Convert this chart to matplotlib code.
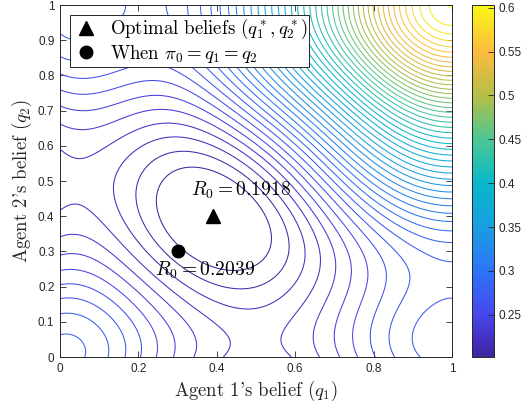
import numpy as np
import matplotlib
matplotlib.use("Agg")
import matplotlib.pyplot as plt
from matplotlib.colors import LinearSegmentedColormap, Normalize
from matplotlib.cm import ScalarMappable

# values of R0 at (q1, q2) points
read_q1 = [0.395, 0.30, 0.31, 0.47, 0.243, 0.33, 0.28, 0.50, 0.17, 0.257, 0.52, 0.10,
           0.236, 0.535, 0.155, 0.57, 0.085, 0.60, 0.055, 0.70, 0.80, 0.90, 0.948, 1.0,
           0, 0, 0, 0, 0, 0, 0, 0, 0, 0, 0, 0, 0, 0, 0, 0, 0, 0,
           1, 1, 1, 1, 1, 1, 1, 1, 1, 1, 1, 1, 1,
           0.61, 0.697, 0.742, 0.781, 0.819, 0.86,
           1, 0.93, 0.96, 0.95, 1, 0.03, 0.06]
read_q2 = [0.395, 0.30, 0.31, 0.47, 0.43, 0.53, 0.28, 0.50, 0.47, 0.257, 0.52, 0.48,
           0.236, 0.535, 0.155, 0.57, 0.085, 0.60, 0.055, 0.70, 0.80, 0.90, 0.948, 1.0,
           0, 0.08, 0.13, 0.17, 0.21, 0.25, 0.30, 0.35, 0.43, 0.51, 0.59, 0.67, 0.72, 0.77,
           0.81, 0.857, 0.90, 1.0,
           0.145, 0.21, 0.27, 0.324, 0.364, 0.389, 0.409, 0.43, 0.51, 0.6, 0.7, 0.8, 0.934,
           0.22, 0.22, 0.22, 0.22, 0.22, 0.22,
           0, 0.09, 0.04, 0, 0.06, 0.03, 0]
read_r0 = [0.1918, 0.2039, 0.2001, 0.2001, 0.2001, 0.2001, 0.2085, 0.2085, 0.2085, 0.2168, 0.2168, 0.2168,
           0.2251, 0.2251, 0.2501, 0.2501, 0.2751, 0.2751, 0.2835, 0.365, 0.452, 0.54, 0.5918, 0.605,
           0.285, 0.2835, 0.2751, 0.2668, 0.2585, 0.2501, 0.2418, 0.2335, 0.2251, 0.2212, 0.2251, 0.2335,
           0.2418, 0.2501, 0.2585, 0.2668, 0.2751, 0.281,
           0.2751, 0.272, 0.2751, 0.2835, 0.2918, 0.3001, 0.3085, 0.3168, 0.3501, 0.40, 0.454, 0.513, 0.5918,
           0.2251, 0.2335, 0.2418, 0.2501, 0.2585, 0.2668,
           0.281, 0.2751, 0.279, 0.2785, 0.2795, 0.2845, 0.2842]

opt_q = [0.39, 0.40]
opt_r0 = 0.1918
prior_q = [0.30, 0.30]
prior_r0 = 0.2039

n_levels = 50
r0_low, r0_high = 0.1918, 0.6
cbar_lim = [0.202, 0.603]
cbar_ticks = [0.25, 0.3, 0.35, 0.4, 0.45, 0.5, 0.55, 0.6]
cbar_labels = ["0.25", "0.3", "0.35", "0.4", "0.45", "0.5", "0.55", "0.6"]
x_ticks = [0, 0.2, 0.4, 0.6, 0.8, 1]
x_labels = ["0", "0.2", "0.4", "0.6", "0.8", "1"]
y_ticks = [0, 0.1, 0.2, 0.3, 0.4, 0.5, 0.6, 0.7, 0.8, 0.9, 1]
y_labels = ["0", "0.1", "0.2", "0.3", "0.4", "0.5", "0.6", "0.7", "0.8", "0.9", "1"]

# parula-like colormap
parula = LinearSegmentedColormap.from_list("parula", [
    (0.00, (0.24, 0.15, 0.62)),
    (0.06, (0.27, 0.20, 0.78)),
    (0.12, (0.28, 0.28, 0.92)),
    (0.24, (0.18, 0.45, 0.97)),
    (0.37, (0.10, 0.62, 0.88)),
    (0.49, (0.03, 0.72, 0.80)),
    (0.62, (0.30, 0.78, 0.58)),
    (0.74, (0.70, 0.75, 0.28)),
    (0.87, (0.99, 0.73, 0.25)),
    (1.00, (0.975, 0.98, 0.08)),
])

# smooth symmetric surface through the readings:
# low order cosine terms + bumps centred on the corners
order = 3
pairs = [(i, j) for i in range(order + 1) for j in range(i, order + 1)]
widths = [0.12, 0.25, 0.5]
corner_w = 0.06


def basis(a, b):
    cols = []
    for i, j in pairs:
        f = np.cos(i * np.pi * a) * np.cos(j * np.pi * b)
        if i != j:
            f = f + np.cos(j * np.pi * a) * np.cos(i * np.pi * b)
        cols.append(f)
    r2 = (1 - a) ** 2 + (1 - b) ** 2
    for w in widths:
        cols.append(np.exp(-r2 / w))
    cols.append(np.exp(-((1 - a) ** 2 + b ** 2) / corner_w) + np.exp(-(a ** 2 + (1 - b) ** 2) / corner_w))
    cols.append(np.exp(-(a ** 2 + b ** 2) / corner_w))
    return np.stack(cols, axis=-1)


def grad_a(a, b, h=1e-4):
    return (basis(a + h, b) - basis(a - h, b)) / (2 * h)


X = basis(np.array(read_q1), np.array(read_q2))
D = grad_a(np.array([0.395]), np.array([0.395])) * 0.1
X = np.vstack([X, D])
y = np.concatenate([np.array(read_r0), [0.0]])
pen = np.array([(i * i + j * j) ** 2 for i, j in pairs] + [1.0] * (len(widths) + 2), float)
lam = 1e-6
coef = np.linalg.solve(X.T @ X + lam * np.diag(pen), X.T @ y)

q = np.linspace(0, 1, 301)
Q1, Q2 = np.meshgrid(q, q)
Z = basis(Q1, Q2) @ coef

plt.rcParams['font.family'] = ['Liberation Sans', 'DejaVu Sans']
plt.rcParams['mathtext.fontset'] = 'cm'
serif = 'cmr10'
dark = '#262626'

fig = plt.figure(figsize=(5.25, 4.08), dpi=100)
ax = fig.add_axes([60 / 525, 51 / 408, 392 / 525, 352 / 408])
cax = fig.add_axes([472 / 525, 51 / 408, 22 / 525, 352 / 408])

levels = np.linspace(r0_low, r0_high, n_levels)[1:]
norm = Normalize(vmin=cbar_lim[0], vmax=cbar_lim[1])
ax.contour(Q1, Q2, Z, levels=levels, cmap=parula, norm=norm, linewidths=0.75)

ax.plot(opt_q[0], opt_q[1], '^', color='k', ms=10, label=r"Optimal beliefs $(q_1^*, q_2^*)$")
ax.plot(prior_q[0], prior_q[1], 'o', color='k', ms=9, label=r"When $\pi_0 = q_1 = q_2$")
ax.text(opt_q[0] + 0.072, opt_q[1] + 0.074, r"$R_0 = %.4f$" % opt_r0, fontsize=14,
        ha='center', va='center')
ax.text(prior_q[0] + 0.07, prior_q[1] - 0.053, r"$R_0 = %.4f$" % prior_r0, fontsize=14,
        ha='center', va='center')

ax.set_xlim(0, 1)
ax.set_ylim(0, 1)
ax.set_xticks(x_ticks)
ax.set_xticklabels(x_labels)
ax.set_yticks(y_ticks)
ax.set_yticklabels(y_labels)
ax.tick_params(direction='in', top=True, right=True, length=4, width=0.6,
               labelsize=8.5, colors=dark, pad=4)
for s in ax.spines.values():
    s.set_linewidth(0.7)
    s.set_color(dark)
ax.set_xlabel(r"Agent 1's belief $(q_1)$", fontsize=13.5, family=serif, color=dark, labelpad=3)
ax.set_ylabel(r"Agent 2's belief $(q_2)$", fontsize=13.5, family=serif, color=dark, labelpad=3)

leg = ax.legend(loc='upper left', bbox_to_anchor=(0.0255, 0.972), prop={'family': serif, 'size': 13.5},
                fancybox=False, framealpha=1, edgecolor=dark, borderpad=0.12,
                handletextpad=0.5, handlelength=1.5, labelspacing=0.08, borderaxespad=0)
leg.get_frame().set_linewidth(0.7)

sm = ScalarMappable(norm=norm, cmap=parula)
cb = fig.colorbar(sm, cax=cax)
cb.set_ticks(cbar_ticks)
cb.set_ticklabels(cbar_labels)
cb.ax.tick_params(direction='in', length=4, width=0.6, labelsize=8.5, colors=dark)
cb.outline.set_linewidth(0.7)
cb.outline.set_edgecolor(dark)

fig.savefig("out.png", dpi=100)
